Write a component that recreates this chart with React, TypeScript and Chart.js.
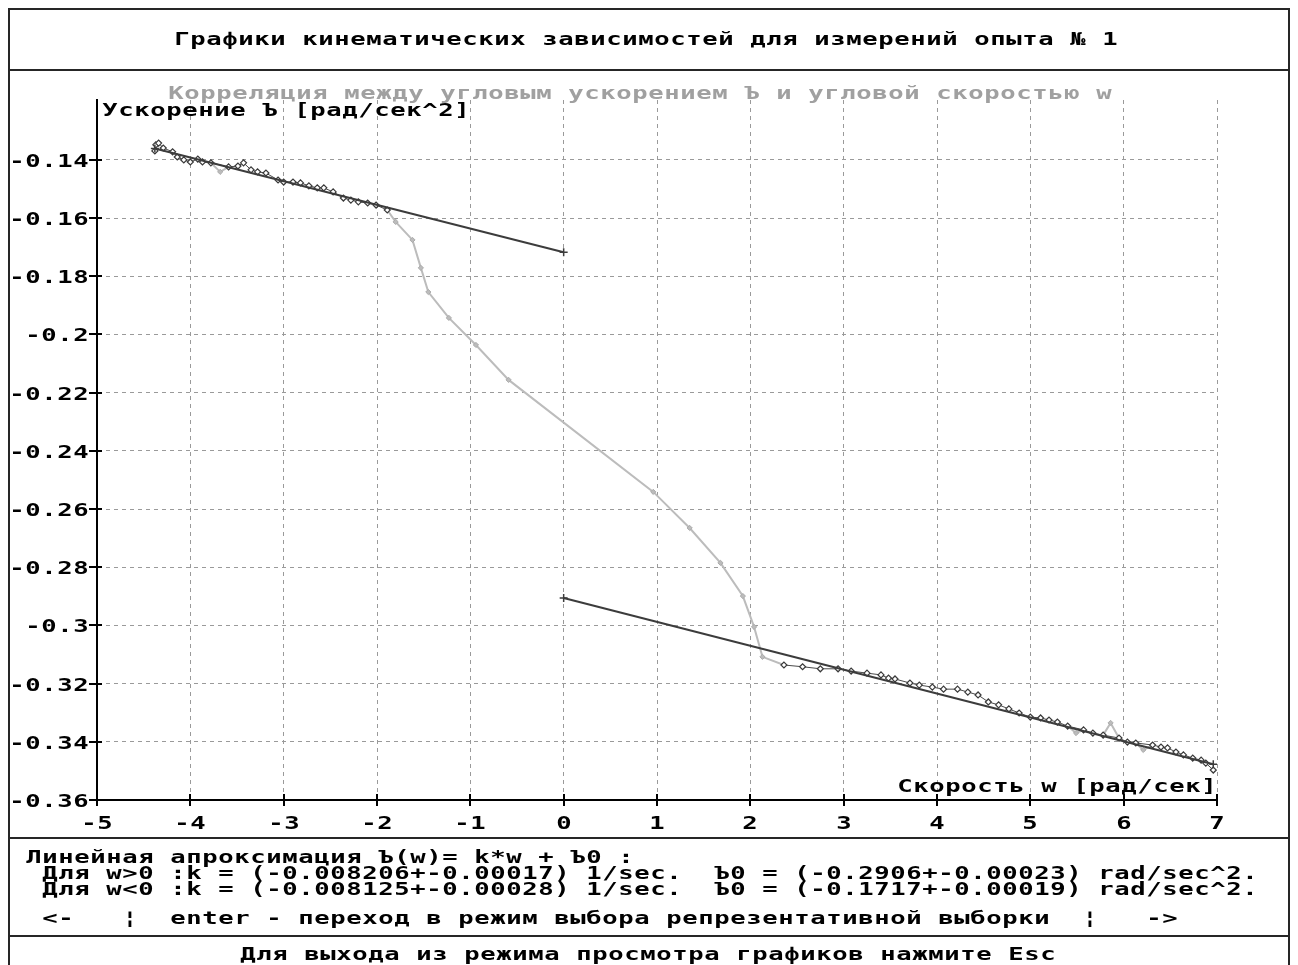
import React, { useEffect, useRef } from 'react';
import { Chart, registerables } from 'chart.js';

Chart.register(...registerables);

// ---------- Data ----------
// Angular velocity w [rad/s] of every measured point
const wAll = [
  -4.38, -4.37, -4.34, -4.29, -4.19, -4.14, -4.07, -4.0, -3.92, -3.87, -3.78, -3.68,
  -3.59, -3.49, -3.43, -3.35, -3.28, -3.19, -3.06, -3.0, -2.9, -2.82, -2.73, -2.64,
  -2.57, -2.47, -2.36, -2.28, -2.2, -2.1, -2.01, -1.89,
  -1.8, -1.62, -1.53, -1.45, -1.23, -0.94, -0.59, 0.96, 1.35, 1.68, 1.92, 2.04, 2.13,
  2.36, 2.56, 2.75, 2.94, 3.08, 3.25, 3.4, 3.48, 3.55, 3.71, 3.81, 3.95, 4.07, 4.22,
  4.33, 4.44, 4.55, 4.66, 4.77, 4.88, 5.0, 5.11, 5.2, 5.29, 5.4, 5.49, 5.57, 5.67,
  5.78, 5.86, 5.95, 6.04, 6.13, 6.21, 6.31, 6.4, 6.47, 6.56, 6.64, 6.74, 6.83, 6.88, 6.96,
];
// Angular acceleration [rad/s^2] of every measured point
const bAll = [
  -0.1369, -0.1348, -0.1342, -0.1359, -0.1372, -0.139, -0.14, -0.1407, -0.1397, -0.1407, -0.141, -0.1441,
  -0.1424, -0.1421, -0.141, -0.1434, -0.1441, -0.1445, -0.1469, -0.1476, -0.1476, -0.1479, -0.1489, -0.1496,
  -0.1496, -0.151, -0.1531, -0.1538, -0.1544, -0.1548, -0.1555, -0.1572,
  -0.1613, -0.1675, -0.1771, -0.1854, -0.1943, -0.2036, -0.2156, -0.2541, -0.2665, -0.2785, -0.2899, -0.3005, -0.3108,
  -0.3136, -0.3142, -0.3149, -0.3149, -0.3157, -0.3164, -0.317, -0.3181, -0.3184, -0.3198, -0.3205, -0.3212, -0.3219, -0.3219,
  -0.3229, -0.3239, -0.3263, -0.3273, -0.3287, -0.3301, -0.3315, -0.3318, -0.3325, -0.3332, -0.3346, -0.337, -0.3359, -0.337,
  -0.3377, -0.3335, -0.3387, -0.3401, -0.3404, -0.3428, -0.3411, -0.3418, -0.3421, -0.3435, -0.3445, -0.3456, -0.3463, -0.3473, -0.3497,
];
// 1 = point belongs to the representative sample (dark), 0 = excluded (grey)
const inSample = [
  1, 1, 1, 1, 1, 1, 1, 1, 1, 1, 1, 0,
  1, 1, 1, 1, 1, 1, 1, 1, 1, 1, 1, 1,
  1, 1, 1, 1, 1, 1, 1, 1,
  0, 0, 0, 0, 0, 0, 0, 0, 0, 0, 0, 0, 0,
  1, 1, 1, 1, 1, 1, 1, 1, 1, 1, 1, 1, 1, 1,
  1, 1, 1, 1, 1, 1, 1, 1, 1, 1, 1, 0, 1, 1,
  1, 0, 1, 1, 1, 0, 1, 1, 1, 1, 1, 1, 1, 1, 1,
];

// Linear fit end points
const fitNegW = [-4.38, 0];
const fitNegB = [-0.1361, -0.1717];
const fitPosW = [0, 6.96];
const fitPosB = [-0.2906, -0.3477];

// Axis ticks
const xTickValues = [-5, -4, -3, -2, -1, 0, 1, 2, 3, 4, 5, 6, 7];
const xTickLabels = ['-5', '-4', '-3', '-2', '-1', '0', '1', '2', '3', '4', '5', '6', '7'];
const yTickValues = [-0.14, -0.16, -0.18, -0.2, -0.22, -0.24, -0.26, -0.28, -0.3, -0.32, -0.34, -0.36];
const yTickLabels = ['-0.14', '-0.16', '-0.18', '-0.2', '-0.22', '-0.24', '-0.26', '-0.28', '-0.3', '-0.32', '-0.34', '-0.36'];

// Texts
const mainTitle = 'Графики кинематических зависимостей для измерений опыта № 1';
const chartTitle = 'Корреляция между угловым ускорением Ъ и угловой скоростью w';
const yTitle = 'Ускорение Ъ [рад/сек^2]';
const xTitle = 'Скорость w [рад/сек]';
const footerLines = [
  'Линейная апроксимация Ъ(w)= k*w + Ъ0 :',
  ' Для w>0 :k = (-0.008206+-0.00017) 1/sec.  Ъ0 = (-0.2906+-0.00023) rad/sec^2.',
  ' Для w<0 :k = (-0.008125+-0.00028) 1/sec.  Ъ0 = (-0.1717+-0.00019) rad/sec^2.',
  ' <-   ¦  enter - переход в режим выбора репрезентативной выборки  ¦   ->',
];
const exitLine = 'Для выхода из режима просмотра графиков нажмите Esc';

// ---------- Rendering ----------
const W = 1298;
const H = 965;
const GREY = '#bcbcbc';
const DARK = '#3c3c3c';
const FONT = '"DejaVu Sans Mono", "Liberation Mono", monospace';

function mono(
  ctx: CanvasRenderingContext2D,
  text: string,
  x: number,
  cy: number,
  align: 'left' | 'center' | 'right',
  color: string,
  bold: boolean
) {
  const ADV = 16;
  const SX = 1.42;
  const n = Array.from(text).length;
  const w = n * ADV;
  const x0 = align === 'left' ? x : align === 'center' ? x - w / 2 : x - w;
  ctx.save();
  ctx.font = `${bold ? 'bold ' : ''}18px ${FONT}`;
  ctx.fillStyle = color;
  ctx.textAlign = 'left';
  ctx.textBaseline = 'alphabetic';
  const native = ctx.measureText('M').width;
  const ls = ADV / SX - native;
  (ctx as any).letterSpacing = `${ls}px`;
  ctx.translate(x0 + (ls * SX) / 2, cy + 6.5);
  ctx.scale(SX, 1);
  ctx.fillText(text, 0, 0);
  (ctx as any).letterSpacing = '0px';
  ctx.restore();
}

const screenPlugin = {
  id: 'screen',
  beforeDraw(chart: any) {
    const ctx = chart.ctx as CanvasRenderingContext2D;
    ctx.save();
    ctx.fillStyle = '#ffffff';
    ctx.fillRect(0, 0, chart.width, chart.height);
    ctx.restore();
  },
  afterDraw(chart: any) {
    const ctx = chart.ctx as CanvasRenderingContext2D;
    const xs = chart.scales.x;
    const ys = chart.scales.y;
    const area = chart.chartArea;

    // frames
    ctx.save();
    ctx.strokeStyle = '#262626';
    ctx.lineWidth = 2;
    ctx.strokeRect(9, 9, 1280, 1000);
    ctx.fillStyle = '#262626';
    ctx.fillRect(8, 69, 1282, 2);
    ctx.fillRect(8, 837, 1282, 2);
    ctx.fillRect(8, 935, 1282, 2);
    ctx.restore();

    // tick marks + labels
    ctx.save();
    ctx.strokeStyle = '#000';
    ctx.lineWidth = 2;
    ys.ticks.forEach((t: any, i: number) => {
      const y = Math.round(ys.getPixelForValue(t.value));
      ctx.beginPath();
      ctx.moveTo(area.left - 8, y);
      ctx.lineTo(area.left + 5, y);
      ctx.stroke();
      mono(ctx, yTickLabels[i], area.left - 8, y, 'right', '#000', true);
    });
    xs.ticks.forEach((t: any, i: number) => {
      const x = Math.round(xs.getPixelForValue(t.value));
      ctx.beginPath();
      ctx.moveTo(x, area.bottom - 6);
      ctx.lineTo(x, area.bottom + 6);
      ctx.stroke();
      mono(ctx, xTickLabels[i], x, area.bottom + 22, 'center', '#000', true);
    });
    ctx.restore();

    // titles
    mono(ctx, mainTitle, 646, 38, 'center', '#000', true);
    mono(ctx, chartTitle, 640, 92, 'center', '#a0a0a0', true);
    mono(ctx, yTitle, area.left + 5, 109, 'left', '#000', true);
    mono(ctx, xTitle, area.right, 785, 'right', '#000', true);

    // footer
    const footerY = [856, 872, 888, 917];
    footerLines.forEach((line, i) => mono(ctx, line, 26, footerY[i], 'left', '#000', true));
    mono(ctx, exitLine, 240, 953, 'left', '#000', true);
  },
};

export default function App() {
  const ref = useRef<HTMLCanvasElement>(null);

  useEffect(() => {
    const canvas = ref.current;
    if (!canvas) return;

    const allPts = wAll.map((w, i) => ({ x: w, y: bAll[i] }));
    const selNeg = allPts.filter((p, i) => inSample[i] === 1 && p.x < 0);
    const selPos = allPts.filter((p, i) => inSample[i] === 1 && p.x > 0);
    const fitNeg = fitNegW.map((w, i) => ({ x: w, y: fitNegB[i] }));
    const fitPos = fitPosW.map((w, i) => ({ x: w, y: fitPosB[i] }));

    const fitStyle = {
      showLine: true,
      borderColor: DARK,
      borderWidth: 2,
      pointStyle: 'cross',
      pointRadius: 4,
      pointBorderWidth: 1.5,
      pointBorderColor: DARK,
    };
    const selStyle = {
      showLine: true,
      borderColor: '#4a4a4a',
      borderWidth: 1,
      pointStyle: 'rectRot',
      pointRadius: 3,
      pointBorderWidth: 1.2,
      pointBorderColor: '#3a3a3a',
      pointBackgroundColor: '#ffffff',
    };

    const chart = new Chart(canvas, {
      type: 'scatter',
      data: {
        datasets: [
          { label: 'fit w<0', data: fitNeg, ...fitStyle } as any,
          { label: 'fit w>0', data: fitPos, ...fitStyle } as any,
          { label: 'sample w<0', data: selNeg, ...selStyle } as any,
          { label: 'sample w>0', data: selPos, ...selStyle } as any,
          {
            label: 'all',
            data: allPts,
            showLine: true,
            borderColor: GREY,
            borderWidth: 2,
            segment: {
              borderColor: (c: any) =>
                inSample[c.p0DataIndex] === 1 && inSample[c.p1DataIndex] === 1 ? 'rgba(0,0,0,0)' : GREY,
            },
            pointStyle: 'rectRot',
            pointRadius: (c: any) => (inSample[c.dataIndex] === 1 ? 0 : 2.6),
            pointBorderWidth: 1,
            pointBorderColor: '#acacac',
            pointBackgroundColor: GREY,
          } as any,
        ],
      },
      options: {
        responsive: false,
        animation: false,
        devicePixelRatio: 1,
        layout: { padding: { left: 97, right: 81, top: 100, bottom: 165 } },
        plugins: {
          legend: { display: false },
          tooltip: { enabled: false },
          title: { display: false },
        },
        scales: {
          x: {
            type: 'linear',
            min: -5,
            max: 7,
            afterBuildTicks: (axis: any) => {
              axis.ticks = xTickValues.map((v) => ({ value: v }));
            },
            ticks: { display: false },
            grid: { color: '#9a9a9a', lineWidth: 1, drawTicks: false },
            border: { display: true, color: '#000', width: 2, dash: [4, 4] },
          },
          y: {
            type: 'linear',
            min: -0.36,
            max: -0.1194,
            afterBuildTicks: (axis: any) => {
              axis.ticks = yTickValues.map((v) => ({ value: v }));
            },
            ticks: { display: false },
            grid: { color: '#9a9a9a', lineWidth: 1, drawTicks: false },
            border: { display: true, color: '#000', width: 2, dash: [4, 4] },
          },
        },
      } as any,
      plugins: [screenPlugin],
    });

    return () => chart.destroy();
  }, []);

  return (
    <div style={{ position: 'absolute', left: 0, top: 0, width: W, height: H, background: '#fff' }}>
      <canvas ref={ref} width={W} height={H} style={{ display: 'block', width: W, height: H }} />
    </div>
  );
}
